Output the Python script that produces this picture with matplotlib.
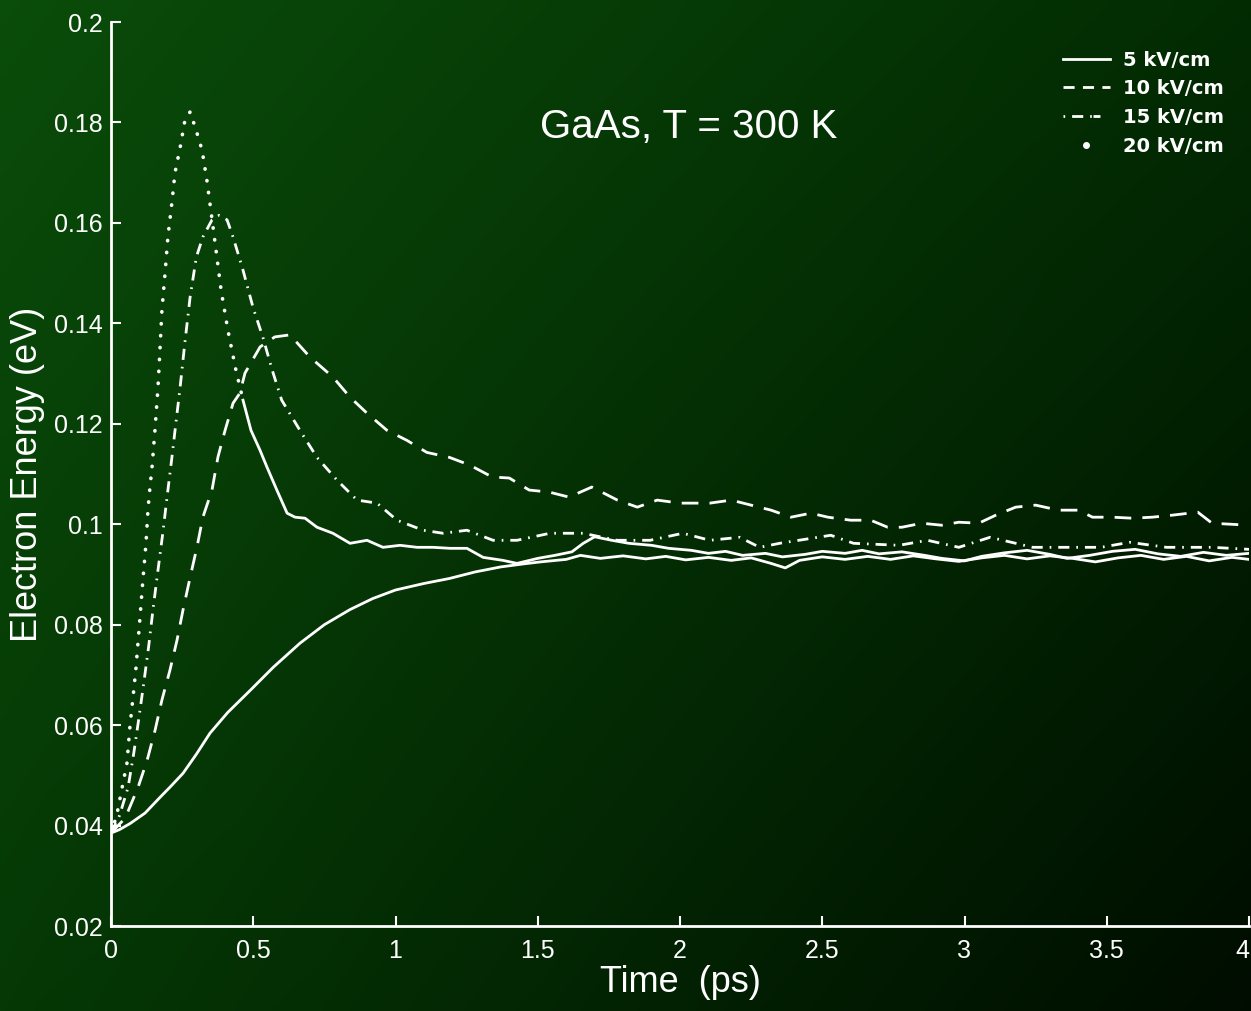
import numpy as np
import matplotlib
matplotlib.use('Agg')
import matplotlib.pyplot as plt
from matplotlib.lines import Line2D

plt.rcParams['font.family'] = ['Liberation Sans', 'DejaVu Sans']

# 5 kV/cm (solid)
t5 = [0, 0.03, 0.067, 0.12, 0.172, 0.21, 0.253, 0.30, 0.348, 0.41, 0.489, 0.57, 0.664, 0.75,
      0.84, 0.92, 1.0, 1.1, 1.19, 1.28, 1.37, 1.45, 1.51, 1.6, 1.65, 1.72, 1.8, 1.88, 1.95,
      2.02, 2.1, 2.18, 2.25, 2.32, 2.37, 2.42, 2.5, 2.58, 2.66, 2.74, 2.82, 2.9, 2.98, 3.06,
      3.14, 3.22, 3.3, 3.38, 3.46, 3.54, 3.62, 3.7, 3.78, 3.86, 3.94, 4.0]
e5 = [0.0385, 0.0392, 0.0404, 0.0425, 0.0456, 0.0478, 0.0504, 0.0542, 0.0584, 0.0625, 0.0669,
      0.0715, 0.0763, 0.0800, 0.0830, 0.0852, 0.0869, 0.0882, 0.0892, 0.0905, 0.0915, 0.0921,
      0.0925, 0.0930, 0.0938, 0.0932, 0.0937, 0.0931, 0.0936, 0.0929, 0.0934, 0.0928, 0.0933,
      0.0922, 0.0913, 0.0928, 0.0935, 0.0930, 0.0936, 0.0930, 0.0937, 0.0931, 0.0926, 0.0933,
      0.0938, 0.0931, 0.0937, 0.0932, 0.0925, 0.0933, 0.0938, 0.0930, 0.0936, 0.0927, 0.0934,
      0.0930]

# 10 kV/cm (dashed)
t10 = [0, 0.05, 0.095, 0.127, 0.155, 0.179, 0.207, 0.232, 0.253, 0.278, 0.302, 0.323, 0.355,
       0.376, 0.401, 0.429, 0.453, 0.471, 0.524, 0.576, 0.629, 0.699, 0.780, 0.840, 0.900,
       0.970, 1.04, 1.11, 1.19, 1.26, 1.34, 1.40, 1.47, 1.54, 1.61, 1.69, 1.78, 1.85, 1.92,
       2.00, 2.105, 2.18, 2.25, 2.32, 2.39, 2.46, 2.52, 2.60, 2.67, 2.73, 2.78, 2.85, 2.92,
       2.98, 3.05, 3.11, 3.18, 3.25, 3.33, 3.40, 3.45, 3.52, 3.59, 3.66, 3.73, 3.82, 3.87, 4.0]
e10 = [0.0385, 0.0415, 0.0476, 0.0530, 0.0590, 0.0650, 0.0709, 0.0769, 0.0829, 0.0894, 0.0954,
       0.1014, 0.1068, 0.1134, 0.1187, 0.1241, 0.1261, 0.1301, 0.1353, 0.1373, 0.1377, 0.1333,
       0.1293, 0.1253, 0.1221, 0.1187, 0.1167, 0.1143, 0.1133, 0.1118, 0.1094, 0.1092, 0.1068,
       0.1064, 0.1054, 0.1074, 0.1048, 0.1034, 0.1048, 0.1042, 0.1042, 0.1048, 0.1038, 0.1028,
       0.1014, 0.1022, 0.1014, 0.1008, 0.1008, 0.0994, 0.0994, 0.1002, 0.0998, 0.1004, 0.1002,
       0.1018, 0.1034, 0.1038, 0.1028, 0.1028, 0.1014, 0.1014, 0.1012, 0.1014, 0.1018, 0.1024,
       0.1002, 0.0998]

# 15 kV/cm (dash-dot)
t15 = [0, 0.03, 0.06, 0.08, 0.097, 0.115, 0.132, 0.148, 0.165, 0.182, 0.197, 0.213, 0.228,
       0.243, 0.258, 0.278, 0.300, 0.323, 0.355, 0.38, 0.408, 0.429, 0.464, 0.499, 0.534,
       0.565, 0.60, 0.664, 0.724, 0.794, 0.865, 0.935, 1.005, 1.097, 1.167, 1.251, 1.343,
       1.427, 1.543, 1.659, 1.779, 1.895, 2.01, 2.105, 2.21, 2.28, 2.35, 2.53, 2.61, 2.77,
       2.87, 2.98, 3.09, 3.24, 3.48, 3.58, 3.71, 3.87, 4.0]
e15 = [0.0385, 0.0420, 0.0476, 0.0544, 0.0610, 0.0683, 0.0755, 0.0832, 0.0908, 0.0982, 0.1054,
       0.1128, 0.1201, 0.1273, 0.1353, 0.1452, 0.1532, 0.1572, 0.1606, 0.1615, 0.1606, 0.1572,
       0.1506, 0.1432, 0.1372, 0.1310, 0.1247, 0.1187, 0.1133, 0.1088, 0.1048, 0.1042, 0.1008,
       0.0988, 0.0982, 0.0988, 0.0968, 0.0968, 0.0982, 0.0982, 0.0968, 0.0968, 0.0982, 0.0968,
       0.0974, 0.0954, 0.0962, 0.0978, 0.0962, 0.0958, 0.0968, 0.0954, 0.0974, 0.0954, 0.0954,
       0.0964, 0.0954, 0.0954, 0.0950]

# 20 kV/cm (dotted)
t20 = [0, 0.02, 0.042, 0.056, 0.067, 0.077, 0.088, 0.102, 0.112, 0.123, 0.130, 0.137, 0.144,
       0.155, 0.165, 0.172, 0.179, 0.190, 0.200, 0.214, 0.225, 0.243, 0.260, 0.278, 0.299,
       0.320, 0.337, 0.351, 0.369, 0.387, 0.411, 0.439, 0.464, 0.492, 0.524, 0.548, 0.583,
       0.619, 0.647, 0.682, 0.724, 0.780, 0.840, 0.900, 0.956, 1.016, 1.076, 1.132, 1.192,
       1.251, 1.308, 1.378, 1.427, 1.5, 1.56, 1.62, 1.66, 1.7, 1.76, 1.82, 1.9, 1.96, 2.04,
       2.1, 2.16, 2.22, 2.3, 2.36, 2.44, 2.5, 2.58, 2.64, 2.7, 2.78, 2.86, 2.92, 3.0, 3.06,
       3.14, 3.22, 3.3, 3.36, 3.44, 3.52, 3.6, 3.68, 3.76, 3.84, 3.92, 4.0]
e20 = [0.0385, 0.0420, 0.0484, 0.0524, 0.0600, 0.0653, 0.0715, 0.0815, 0.0888, 0.0962, 0.1029,
       0.1074, 0.1112, 0.1191, 0.1271, 0.1347, 0.1426, 0.1500, 0.1572, 0.1640, 0.1700, 0.1750,
       0.1805, 0.1821, 0.1785, 0.1745, 0.1685, 0.1625, 0.1546, 0.1466, 0.1386, 0.1307, 0.1247,
       0.1187, 0.1147, 0.1114, 0.1068, 0.1022, 0.1014, 0.1012, 0.0994, 0.0982, 0.0962, 0.0968,
       0.0954, 0.0958, 0.0954, 0.0954, 0.0952, 0.0952, 0.0934, 0.0928, 0.0922, 0.0932, 0.0938,
       0.0945, 0.0962, 0.0975, 0.0968, 0.0962, 0.0958, 0.0952, 0.0948, 0.0942, 0.0946, 0.0938,
       0.0942, 0.0935, 0.0940, 0.0946, 0.0942, 0.0948, 0.0941, 0.0945, 0.0938, 0.0932, 0.0927,
       0.0936, 0.0943, 0.0948, 0.0940, 0.0932, 0.0938, 0.0946, 0.0950, 0.0941, 0.0936, 0.0944,
       0.0938, 0.0942]

labels = ['5 kV/cm', '10 kV/cm', '15 kV/cm', '20 kV/cm']
xticks = [0, 0.5, 1, 1.5, 2, 2.5, 3, 3.5, 4]
xticklabels = ['0', '0.5', '1', '1.5', '2', '2.5', '3', '3.5', '4']
yticks = [0.02, 0.04, 0.06, 0.08, 0.1, 0.12, 0.14, 0.16, 0.18, 0.2]
yticklabels = ['0.02', '0.04', '0.06', '0.08', '0.1', '0.12', '0.14', '0.16', '0.18', '0.2']

W, H = 1251, 1011
fig = plt.figure(figsize=(W / 100, H / 100), dpi=100)

# green gradient background
bg = fig.add_axes([0, 0, 1, 1])
tl = np.array([0.04, 0.30, 0.04])
tr = np.array([0.01, 0.17, 0.01])
bl = np.array([0.02, 0.22, 0.02])
br = np.array([0.00, 0.05, 0.00])
u = np.linspace(0, 1, 250)[None, :, None]
v = np.linspace(0, 1, 200)[:, None, None]
img = (1 - u) * (1 - v) * tl + u * (1 - v) * tr + (1 - u) * v * bl + u * v * br
bg.imshow(img, aspect='auto', interpolation='bilinear', extent=[0, 1, 0, 1])
bg.axis('off')

left, right = 111 / W, 1249 / W
bottom, top = 1 - 926 / H, 1 - 22 / H
ax = fig.add_axes([left, bottom, right - left, top - bottom])
ax.set_facecolor('none')

c = 'white'
ax.plot(t5, e5, color=c, lw=2, solid_joinstyle='round')
ax.plot(t10, e10, color=c, lw=2, linestyle=(0, (6, 4)))
ax.plot(t15, e15, color=c, lw=2, linestyle=(0, (4, 2.5, 0.6, 2.5)))
k = next(i for i, t in enumerate(t20) if t >= 0.45)
ax.plot(t20[:k + 1], e20[:k + 1], color=c, lw=2.6, linestyle=(0, (0.1, 3.2)),
        dash_capstyle='round')
ax.plot(t20[k:], e20[k:], color=c, lw=2, solid_joinstyle='round')

ax.set_xlim(0, 4)
ax.set_ylim(0.02, 0.2)
ax.set_xticks(xticks)
ax.set_xticklabels(xticklabels)
ax.set_yticks(yticks)
ax.set_yticklabels(yticklabels)
ax.get_xticklabels()[-1].set_horizontalalignment('right')
for s in ['top', 'right']:
    ax.spines[s].set_visible(False)
for s in ['left', 'bottom']:
    ax.spines[s].set_color(c)
    ax.spines[s].set_linewidth(2)
ax.tick_params(axis='both', direction='in', length=7, width=1.5, colors=c, labelsize=18)
ax.tick_params(axis='x', pad=9)
ax.tick_params(axis='y', pad=6)

ax.set_xlabel('Time  (ps)', fontsize=26, color=c, labelpad=2)
ax.set_ylabel('Electron Energy (eV)', fontsize=26, color=c, labelpad=6)

ax.text(2.03, 0.1791, 'GaAs, T = 300 K', fontsize=29, color=c, ha='center', va='center')

handles = [Line2D([], [], color=c, lw=2),
           Line2D([], [], color=c, lw=2, linestyle=(0, (4, 3))),
           Line2D([], [], color=c, lw=2, linestyle=(0, (0.6, 2.5, 4, 2.5, 0.6))),
           Line2D([], [], color=c, marker='o', markersize=4, linestyle='none')]
leg = ax.legend(handles, labels, loc='upper right', bbox_to_anchor=(0.985, 0.977),
                frameon=False, handlelength=2.4, handletextpad=0.7, labelspacing=0.5,
                borderaxespad=0, prop={'family': 'DejaVu Sans', 'weight': 'bold', 'size': 14})
for txt in leg.get_texts():
    txt.set_color(c)

fig.savefig('out.png', dpi=100)
